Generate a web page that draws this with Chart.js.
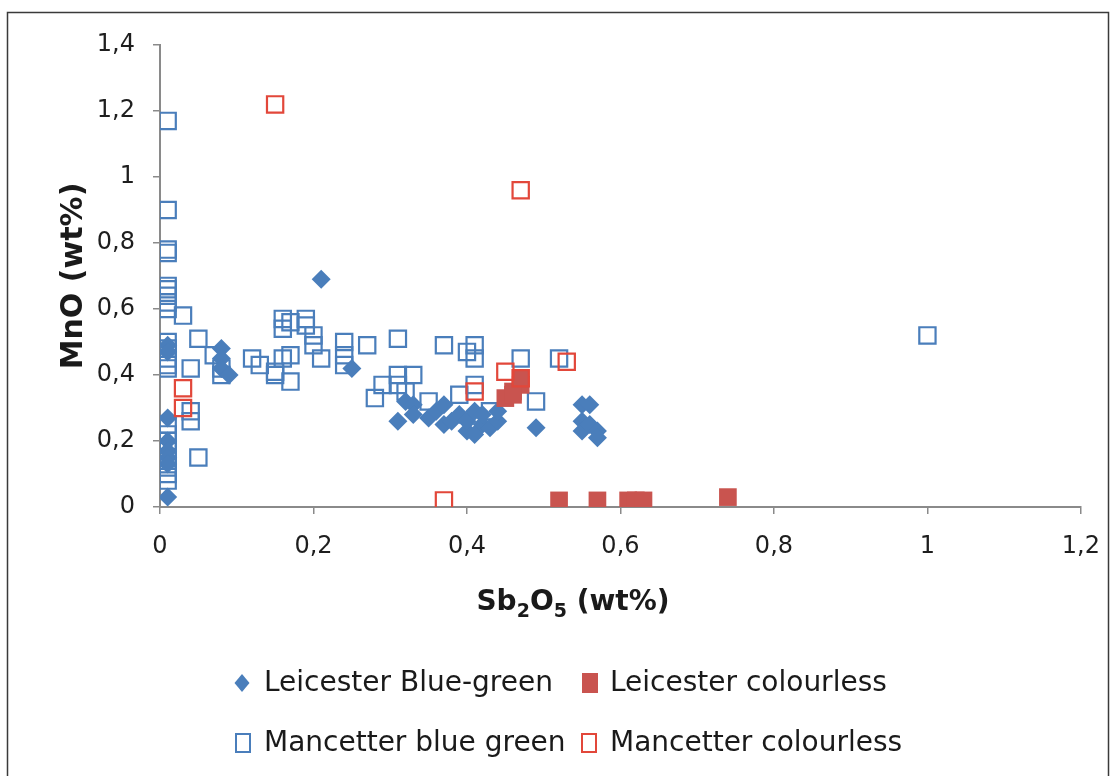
<!DOCTYPE html>
<html>
<head>
<meta charset="utf-8">
<script src="https://cdn.jsdelivr.net/npm/chart.js@4.4.1/dist/chart.umd.min.js"></script>
<style>
  html, body { margin: 0; padding: 0; background: #ffffff; }
  #wrap { position: relative; width: 1118px; height: 776px; }
  canvas { display: block; }
</style>
</head>
<body>
<div id="wrap"><canvas id="c" width="1118" height="776"></canvas></div>
<script>
// ---- Data (x = Sb2O5 wt%, y = MnO wt%) ----
const leicesterBlueGreenX = [0.21, 0.01, 0.01, 0.08, 0.08, 0.08, 0.09, 0.25, 0.01, 0.01, 0.01, 0.01, 0.01, 0.01,
  0.32, 0.33, 0.31, 0.33, 0.35, 0.36, 0.37, 0.37, 0.38, 0.39, 0.40, 0.40, 0.41, 0.42, 0.42, 0.43, 0.44, 0.44, 0.41,
  0.49, 0.55, 0.56, 0.55, 0.55, 0.56, 0.57, 0.57];
const leicesterBlueGreenY = [0.69, 0.49, 0.47, 0.48, 0.45, 0.42, 0.40, 0.42, 0.27, 0.20, 0.17, 0.15, 0.13, 0.03,
  0.32, 0.31, 0.26, 0.28, 0.27, 0.29, 0.31, 0.25, 0.26, 0.28, 0.23, 0.26, 0.29, 0.25, 0.28, 0.24, 0.26, 0.29, 0.22,
  0.24, 0.31, 0.31, 0.26, 0.23, 0.25, 0.23, 0.21];

const leicesterColourlessX = [0.45, 0.46, 0.47, 0.47, 0.46, 0.52, 0.57, 0.61, 0.62, 0.63, 0.74];
const leicesterColourlessY = [0.33, 0.35, 0.37, 0.39, 0.34, 0.02, 0.02, 0.02, 0.02, 0.02, 0.03];

const mancetterBlueGreenX = [0.01, 0.01, 0.01, 0.01, 0.01, 0.01, 0.01, 0.01, 0.01, 0.03, 0.01, 0.01, 0.01, 0.01, 0.01,
  0.05, 0.04, 0.07, 0.08, 0.08, 0.04, 0.04, 0.01, 0.01, 0.01, 0.01, 0.01, 0.01, 0.01, 0.01, 0.05,
  0.12, 0.13, 0.15, 0.15, 0.16, 0.16, 0.16, 0.17, 0.17, 0.17, 0.19, 0.19, 0.20, 0.20, 0.21,
  0.24, 0.24, 0.24, 0.27, 0.31, 0.31, 0.31, 0.28, 0.29, 0.32, 0.33, 0.35, 0.37, 0.39, 0.40, 0.41,
  0.41, 0.41, 0.43, 0.47, 0.49, 0.52, 1.00];
const mancetterBlueGreenY = [1.17, 0.90, 0.78, 0.77, 0.67, 0.66, 0.64, 0.62, 0.60, 0.58, 0.50, 0.48, 0.45, 0.43, 0.42,
  0.51, 0.42, 0.46, 0.42, 0.40, 0.29, 0.26, 0.25, 0.22, 0.20, 0.17, 0.14, 0.12, 0.10, 0.08, 0.15,
  0.45, 0.43, 0.41, 0.40, 0.45, 0.57, 0.54, 0.56, 0.46, 0.38, 0.57, 0.55, 0.52, 0.49, 0.45,
  0.50, 0.46, 0.43, 0.49, 0.51, 0.40, 0.37, 0.33, 0.37, 0.35, 0.40, 0.32, 0.49, 0.34, 0.47, 0.49,
  0.45, 0.37, 0.29, 0.45, 0.32, 0.45, 0.52];

const mancetterColourlessX = [0.15, 0.47, 0.03, 0.03, 0.37, 0.41, 0.45, 0.47, 0.53];
const mancetterColourlessY = [1.22, 0.96, 0.36, 0.30, 0.02, 0.35, 0.41, 0.39, 0.44];

const seriesNames = ['Leicester Blue-green', 'Leicester colourless', 'Mancetter blue green', 'Mancetter colourless'];
const xTickLabels = ['0', '0,2', '0,4', '0,6', '0,8', '1', '1,2'];
const yTickLabels = ['0', '0,2', '0,4', '0,6', '0,8', '1', '1,2', '1,4'];

function pts(xs, ys) { return xs.map((x, i) => ({ x: x, y: ys[i] })); }

const BLUE = '#4a7ebb';
const RED_FILL = '#c9544f';
const RED_LINE = '#e2473a';
const FONT = '"DejaVu Sans", "Open Sans", sans-serif';

const datasets = [
  { label: seriesNames[2], data: pts(mancetterBlueGreenX, mancetterBlueGreenY), pointStyle: 'rect',
    pointRadius: 11.5, pointBorderWidth: 2.2, borderColor: BLUE, backgroundColor: 'rgba(255,255,255,0)', order: 4 },
  { label: seriesNames[0], data: pts(leicesterBlueGreenX, leicesterBlueGreenY), pointStyle: 'rectRot',
    pointRadius: 9.5, pointBorderWidth: 0, borderColor: BLUE, backgroundColor: BLUE, order: 3 },
  { label: seriesNames[1], data: pts(leicesterColourlessX, leicesterColourlessY), pointStyle: 'rect',
    pointRadius: 12.5, pointBorderWidth: 0, borderColor: RED_FILL, backgroundColor: RED_FILL, order: 2 },
  { label: seriesNames[3], data: pts(mancetterColourlessX, mancetterColourlessY), pointStyle: 'rect',
    pointRadius: 11.5, pointBorderWidth: 2.2, borderColor: RED_LINE, backgroundColor: 'rgba(255,255,255,0)', order: 1 }
];

const decorations = {
  id: 'decorations',
  afterDraw(chart) {
    const ctx = chart.ctx;
    const area = chart.chartArea;
    ctx.save();
    // frame
    ctx.strokeStyle = '#3a3a3a';
    ctx.lineWidth = 1.5;
    ctx.strokeRect(7.5, 12.5, 1101, 775);

    ctx.fillStyle = '#1a1a1a';
    // y title
    ctx.save();
    ctx.translate(74, (area.top + area.bottom) / 2);
    ctx.rotate(-Math.PI / 2);
    ctx.font = 'bold 30px ' + FONT;
    ctx.textAlign = 'center';
    ctx.textBaseline = 'middle';
    ctx.fillText('MnO (wt%)', 0, 0);
    ctx.restore();

    // x title with subscripts
    const parts = [['Sb', 0], ['2', 1], ['O', 0], ['5', 1], [' (wt%)', 0]];
    const big = 'bold 28px ' + FONT, small = 'bold 19px ' + FONT;
    let total = 0;
    parts.forEach(p => { ctx.font = p[1] ? small : big; total += ctx.measureText(p[0]).width; });
    let x = 573 - total / 2;
    const base = 610;
    ctx.textAlign = 'left';
    ctx.textBaseline = 'alphabetic';
    parts.forEach(p => {
      ctx.font = p[1] ? small : big;
      ctx.fillText(p[0], x, p[1] ? base + 7 : base);
      x += ctx.measureText(p[0]).width;
    });

    // legend
    const items = [
      { ds: 1, x: 242, y: 683, tx: 264 },
      { ds: 2, x: 590, y: 683, tx: 610 },
      { ds: 0, x: 243, y: 743, tx: 264 },
      { ds: 3, x: 589, y: 743, tx: 610 }
    ];
    items.forEach(it => {
      const d = chart.data.datasets[it.ds];
      ctx.save();
      ctx.beginPath();
      if (d.pointStyle === 'rectRot') {
        ctx.moveTo(it.x, it.y - 9); ctx.lineTo(it.x + 7.5, it.y); ctx.lineTo(it.x, it.y + 9); ctx.lineTo(it.x - 7.5, it.y);
        ctx.closePath(); ctx.fillStyle = d.backgroundColor; ctx.fill();
      } else if (d.pointBorderWidth === 0) {
        ctx.fillStyle = d.backgroundColor; ctx.fillRect(it.x - 8, it.y - 10, 16, 20);
      } else {
        ctx.strokeStyle = d.borderColor; ctx.lineWidth = 2; ctx.strokeRect(it.x - 7, it.y - 9, 14, 18);
      }
      ctx.restore();
      ctx.font = '28px ' + FONT;
      ctx.fillStyle = '#1a1a1a';
      ctx.textAlign = 'left';
      ctx.textBaseline = 'middle';
      ctx.fillText(d.label, it.tx, it.y + 1);
    });
    ctx.restore();
  }
};

new Chart(document.getElementById('c'), {
  type: 'scatter',
  data: { datasets: datasets },
  options: {
    responsive: false,
    animation: false,
    layout: { padding: { top: 45, right: 36, bottom: 199, left: 0 } },
    plugins: { legend: { display: false }, tooltip: { enabled: false } },
    scales: {
      x: {
        type: 'linear', min: 0, max: 1.2,
        afterFit(s) { s.height = 70; },
        border: { display: true, color: '#8a8a8a', width: 2 },
        grid: { display: true, drawOnChartArea: false, drawTicks: true, tickLength: 7, color: '#8a8a8a', lineWidth: 1.5 },
        ticks: {
          stepSize: 0.2, padding: 18, color: '#1e1e1e', font: { family: FONT, size: 24 },
          callback: (v) => xTickLabels[Math.round(v / 0.2)]
        }
      },
      y: {
        type: 'linear', min: 0, max: 1.4,
        afterFit(s) { s.width = 160; },
        border: { display: true, color: '#8a8a8a', width: 2 },
        grid: { display: true, drawOnChartArea: false, drawTicks: true, tickLength: 7, color: '#8a8a8a', lineWidth: 1.5 },
        ticks: {
          stepSize: 0.2, padding: 18, color: '#1e1e1e', font: { family: FONT, size: 24 },
          callback: (v) => yTickLabels[Math.round(v / 0.2)]
        }
      }
    }
  },
  plugins: [decorations]
});
</script>
</body>
</html>
